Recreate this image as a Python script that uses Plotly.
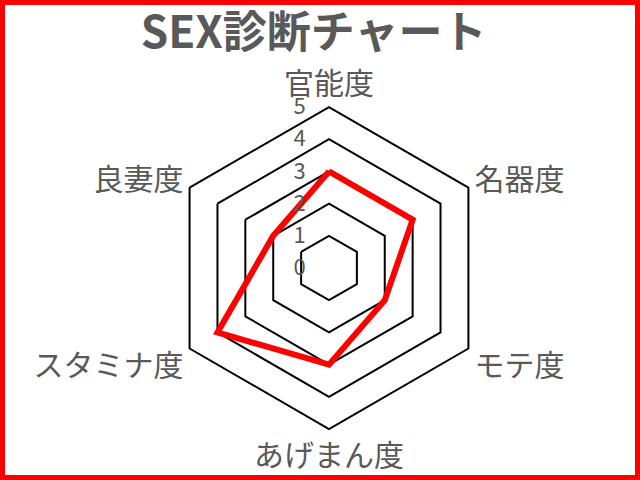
import plotly.graph_objects as go

# chart values
categories = ['官能度', '名器度', 'モテ度', 'あげまん度', 'スタミナ度', '良妻度']
scores = [3, 3, 2, 3, 4, 2]
tick_vals = [0, 1, 2, 3, 4, 5]
title_text = 'SEX診断チャート'

JP_FONT = 'Noto Sans CJK JP'
GRAY = '#595959'

fig = go.Figure()
fig.add_trace(
    go.Scatterpolar(
        r=scores + scores[:1],
        theta=categories + categories[:1],
        mode='lines',
        line=dict(color='#ff0000', width=6),
        showlegend=False,
        hoverinfo='skip'
        )
    )

fig.update_layout(
    width=640,
    height=480,
    margin=dict(l=0, r=0, t=0, b=0),
    paper_bgcolor='white',
    font=dict(family=JP_FONT, color=GRAY),
    title=dict(
        text=title_text,
        x=0.49,
        xanchor='center',
        y=0.932,
        yanchor='middle',
        font=dict(family=JP_FONT, size=44, color=GRAY, weight='bold')
        ),
    polar=dict(
        domain=dict(x=[0.2625, 0.7656], y=[0.10625, 0.777]),
        bgcolor='white',
        gridshape='linear',
        angularaxis=dict(
            rotation=90,
            direction='clockwise',
            showgrid=False,
            showline=True,
            linecolor='black',
            linewidth=2,
            ticks='',
            tickfont=dict(family=JP_FONT, size=30, color=GRAY)
            ),
        radialaxis=dict(
            range=[0, 5],
            tickvals=tick_vals,
            angle=90,
            tickangle=90,
            side='counterclockwise',
            showline=False,
            gridcolor='black',
            gridwidth=2,
            ticks='outside',
            ticklen=15,
            tickcolor='rgba(0,0,0,0)',
            tickfont=dict(family=JP_FONT, size=22, color=GRAY)
            )
        ),
    shapes=[
        dict(
            type='rect',
            xref='paper',
            yref='paper',
            x0=0,
            y0=0,
            x1=1,
            y1=1,
            line=dict(color='#ff0000', width=10)
            )
        ]
    )

# drop the default page margin so the red frame sits on the window edges
fig.write_html(
    'out.html',
    config={'displayModeBar': False},
    post_script="document.body.style.margin='0';document.body.style.overflow='hidden';"
    )
